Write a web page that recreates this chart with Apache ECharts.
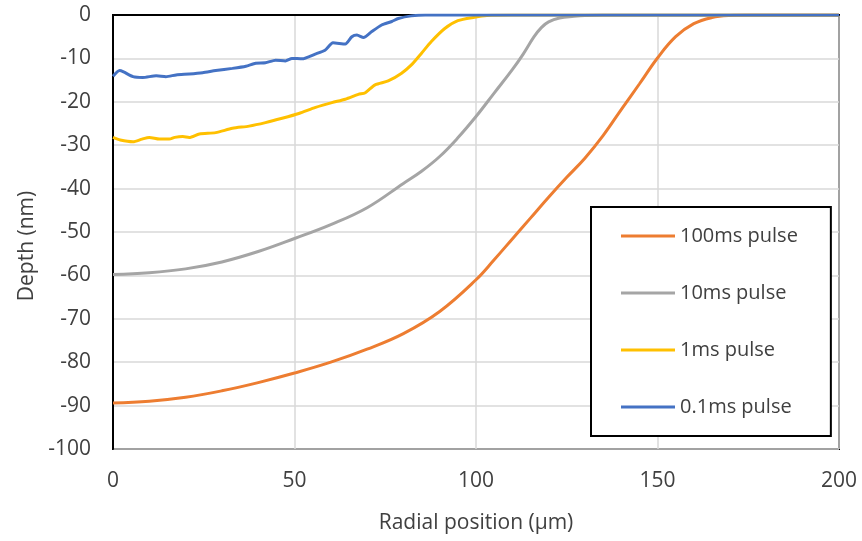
<!DOCTYPE html>
<html>
<head>
<meta charset="utf-8">
<script src="https://cdn.jsdelivr.net/npm/echarts@6/dist/echarts.min.js"></script>
<style>html,body{margin:0;padding:0;background:#fff}#chart{width:862px;height:541px}</style>
</head>
<body>
<div id="chart"></div>
<script>
// Series names (legend order)
const seriesNames = ['100ms pulse', '10ms pulse', '1ms pulse', '0.1ms pulse'];

// 100ms pulse
const x100 = [0, 10, 20, 30, 40, 50, 60, 70, 80, 90, 100, 105, 110, 115, 120, 125, 130, 135, 140, 145, 150, 155, 160, 165, 170, 175, 185, 200];
const y100 = [-89.4, -89.0, -88.1, -86.6, -84.7, -82.5, -80.0, -77.0, -73.4, -68.3, -61.0, -56.4, -51.6, -46.8, -42.0, -37.4, -33.0, -27.8, -21.8, -15.9, -9.9, -5.0, -2.0, -0.6, -0.1, 0, 0, 0];

// 10ms pulse
const x10 = [0, 10, 20, 30, 40, 50, 60, 70, 80, 85, 90, 95, 100, 105, 110, 113, 116, 118, 120, 123, 127, 130, 135, 150, 200];
const y10 = [-59.8, -59.4, -58.5, -56.9, -54.5, -51.5, -48.3, -44.4, -38.8, -36.0, -32.6, -28.3, -23.4, -18.0, -12.6, -9.0, -5.0, -2.9, -1.6, -0.7, -0.3, -0.1, 0, 0, 0];

// 1ms pulse
const x1 = [0, 2, 5.5, 8, 10, 12.8, 15.5, 17, 19.2, 21, 23.8, 28.3, 32.9, 37.5, 42, 46.6, 51.2, 55.8, 60.3, 64, 67.6, 69.5, 72.2, 75.8, 79.5, 82.2, 85, 87.7, 91.4, 95, 99.6, 103, 110, 150, 200];
const y1 = [-28.2, -28.8, -29.2, -28.6, -28.2, -28.6, -28.6, -28.2, -28.0, -28.2, -27.4, -27.1, -26.1, -25.6, -24.8, -23.8, -22.7, -21.3, -20.2, -19.4, -18.3, -17.9, -16.1, -15.2, -13.4, -11.5, -8.8, -6.1, -3.1, -1.3, -0.5, -0.1, 0, 0, 0];

// 0.1ms pulse
const x01 = [0, 1.8, 2.9, 5.5, 8.2, 11.9, 14.6, 17.4, 21, 24.7, 28.3, 32.9, 36.6, 39.3, 42, 44.8, 47.5, 49.3, 52.1, 55.7, 58.4, 60.6, 64, 65.8, 67.2, 69, 71.3, 74, 76.8, 78.6, 82.2, 86, 100, 150, 200];
const y01 = [-14.1, -12.8, -13.1, -14.2, -14.4, -14.0, -14.2, -13.8, -13.6, -13.3, -12.8, -12.3, -11.8, -11.1, -11.0, -10.4, -10.6, -10.0, -10.1, -9.0, -8.1, -6.4, -6.7, -5.0, -4.6, -5.2, -3.8, -2.3, -1.5, -0.8, -0.2, 0, 0, 0, 0];

// Axis ticks
const xTicks = { min: 0, max: 200, interval: 50 };
const yTicks = { min: -100, max: 0, interval: 10 };

const colors = ['#ED7D31', '#A5A5A5', '#FFC000', '#4472C4'];
const xs = [x100, x10, x1, x01];
const ys = [y100, y10, y1, y01];
const smoothness = [0.4, 0.4, 0.25, 0.2];

const font = "'Open Sans', 'Liberation Sans', sans-serif";
const textColor = '#404040';

const chart = echarts.init(document.getElementById('chart'), null, { renderer: 'canvas' });
chart.setOption({
  animation: false,
  backgroundColor: '#fff',
  textStyle: { fontFamily: font },
  grid: {
    left: 113, right: 23, top: 15, bottom: 92,
    show: true, borderColor: '#000', borderWidth: 2, backgroundColor: 'transparent'
  },
  xAxis: {
    type: 'value',
    min: xTicks.min, max: xTicks.max, interval: xTicks.interval,
    name: 'Radial position (µm)',
    nameLocation: 'middle',
    nameGap: 64,
    nameTextStyle: { fontFamily: font, fontSize: 21, color: textColor },
    axisLine: { show: true, lineStyle: { color: '#000', width: 2 } },
    axisTick: { show: false },
    axisLabel: { fontFamily: font, fontSize: 21, color: textColor, margin: 22 },
    splitLine: { show: true, lineStyle: { color: '#D9D9D9', width: 1.5 } }
  },
  yAxis: {
    type: 'value',
    min: yTicks.min, max: yTicks.max, interval: yTicks.interval,
    name: 'Depth (nm)',
    nameLocation: 'middle',
    nameGap: 72,
    nameTextStyle: { fontFamily: font, fontSize: 21, color: textColor, padding: [0, 28, 0, 0] },
    axisLine: { show: true, lineStyle: { color: '#000', width: 2 } },
    axisTick: { show: false },
    axisLabel: { fontFamily: font, fontSize: 21, color: textColor, margin: 22 },
    splitLine: { show: true, lineStyle: { color: '#D9D9D9', width: 1.5 } }
  },
  legend: {
    orient: 'vertical',
    left: 591, top: 207,
    padding: [19, 33, 19, 30],
    icon: 'rect',
    itemWidth: 54, itemHeight: 3,
    itemGap: 37,
    borderColor: '#000', borderWidth: 2,
    backgroundColor: '#fff',
    textStyle: { fontFamily: font, fontSize: 20, color: textColor, lineHeight: 20 },
    data: seriesNames
  },
  series: seriesNames.map((name, i) => ({
    name: name,
    type: 'line',
    data: xs[i].map((x, j) => [x, ys[i][j]]),
    smooth: smoothness[i],
    symbol: 'none',
    color: colors[i],
    lineStyle: { color: colors[i], width: 3 },
    z: 2 + i
  }))
});
</script>
</body>
</html>
